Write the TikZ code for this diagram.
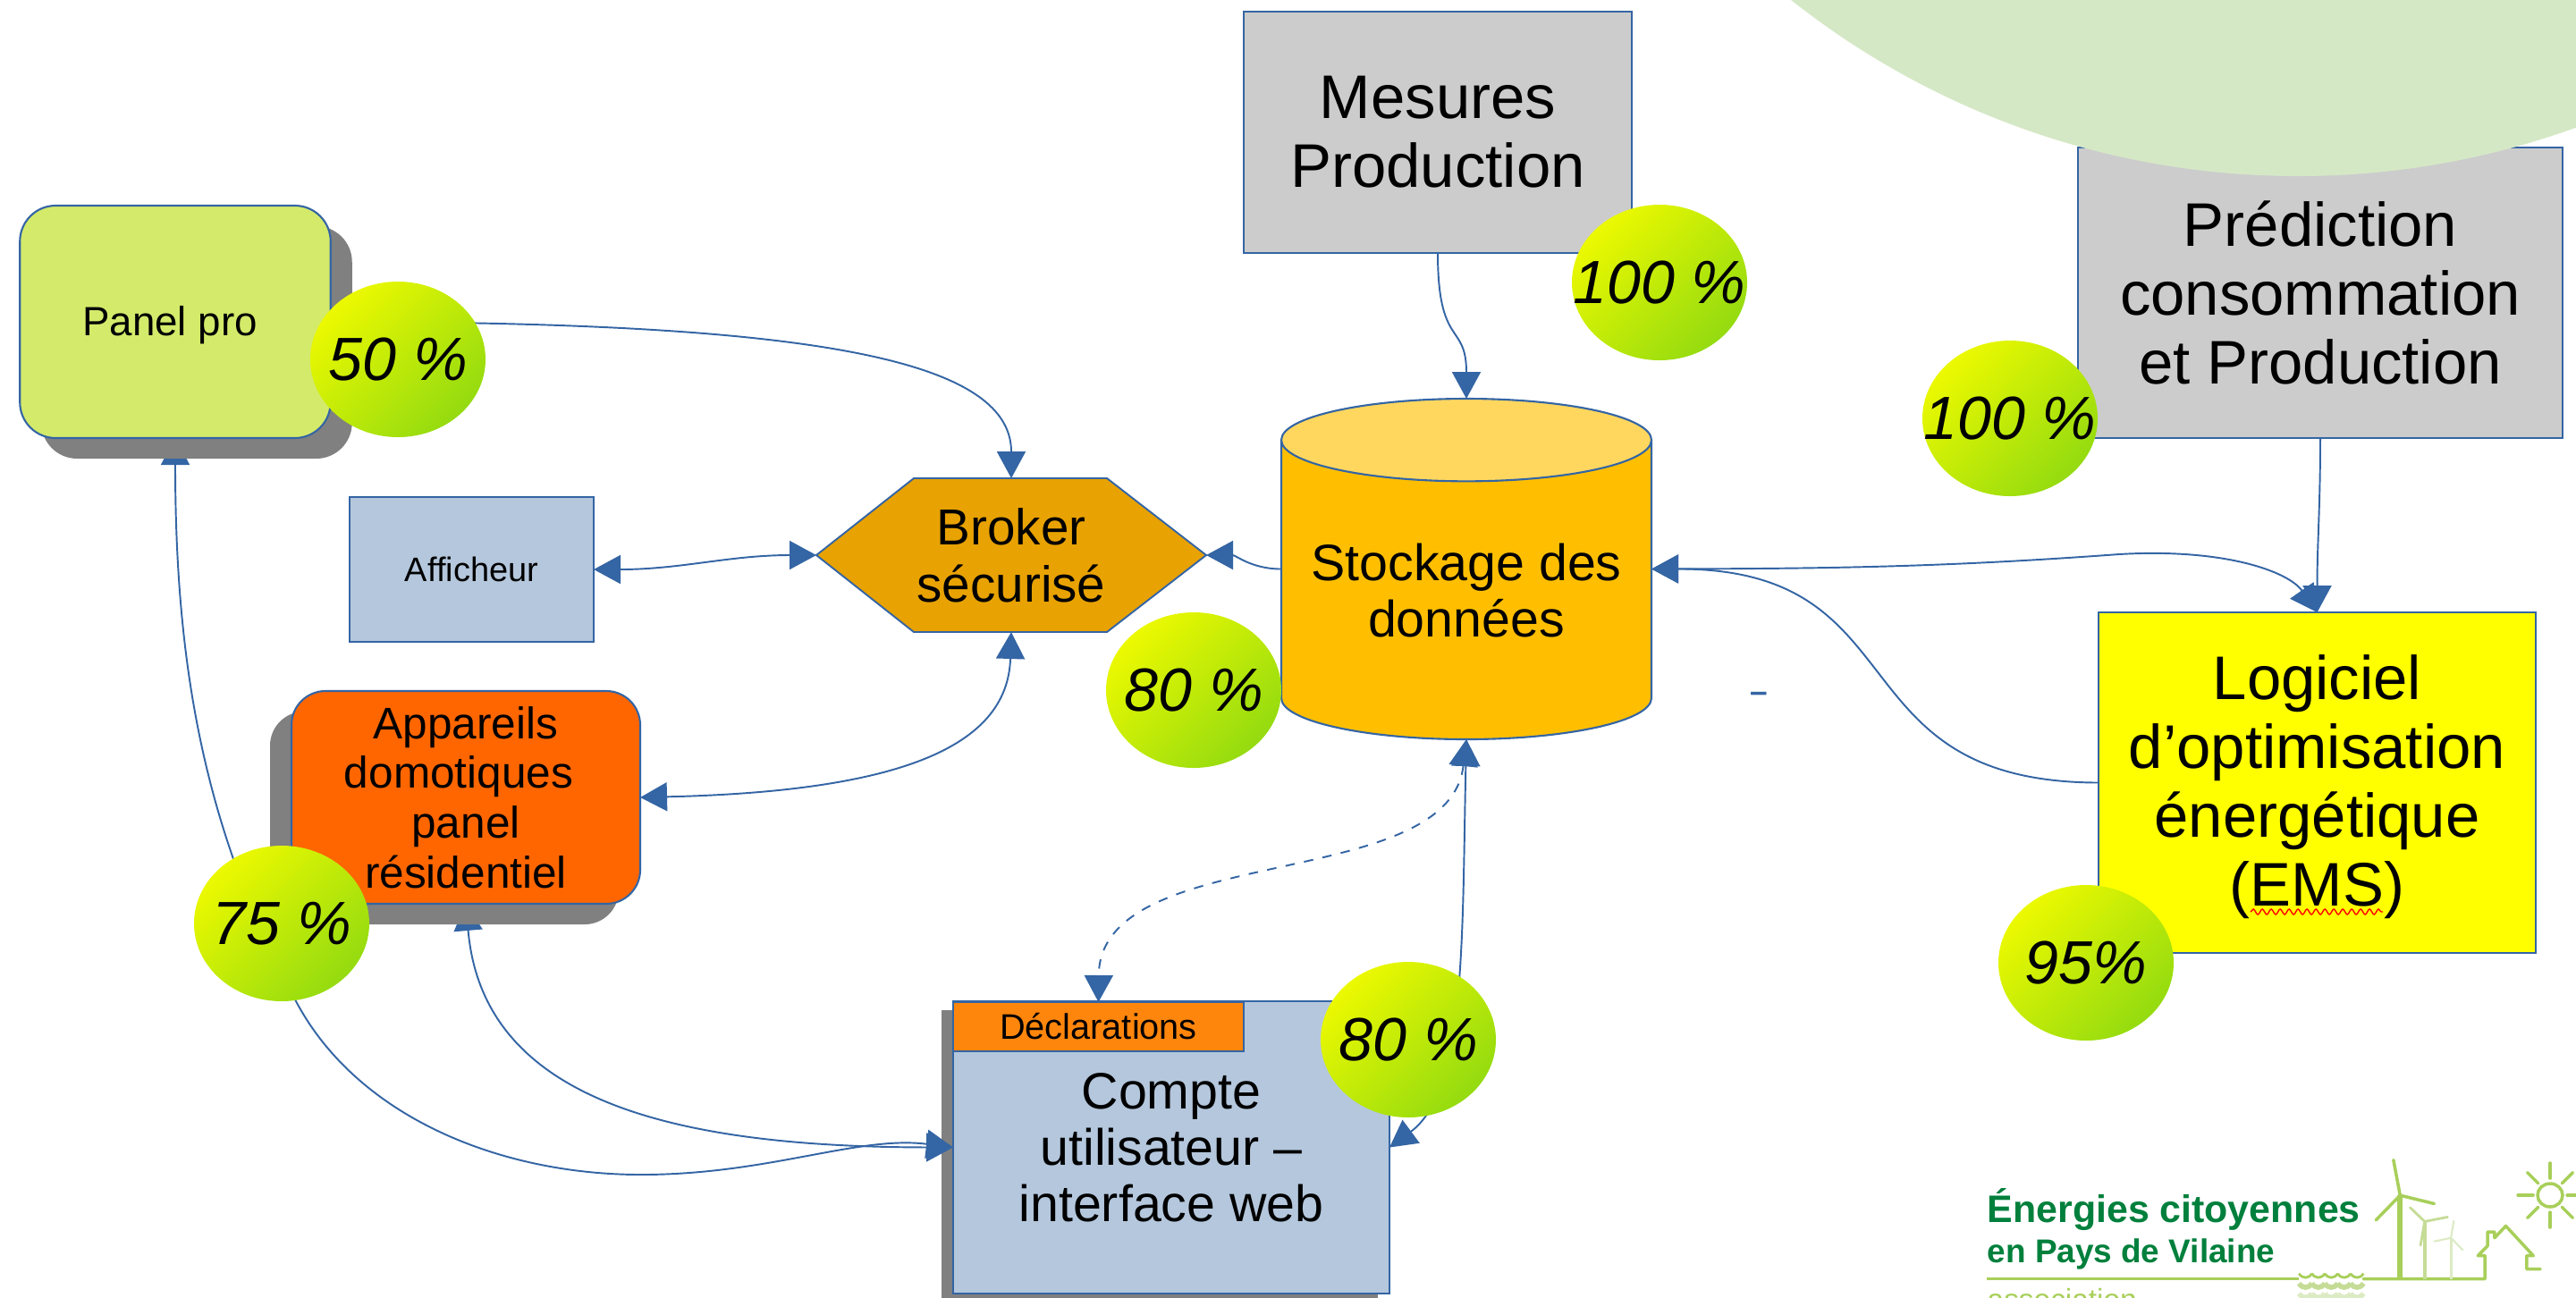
\documentclass[tikz,border=0pt]{standalone}
\usepackage{fontspec}
\setmainfont{Liberation Sans}
\usetikzlibrary{arrows.meta,shapes.geometric,shadows,backgrounds,decorations.pathmorphing}

\definecolor{linkblue}{HTML}{3465A4}
\definecolor{boxblue}{HTML}{B4C7DC}
\definecolor{boxgray}{HTML}{CCCCCC}
\definecolor{shadowgray}{HTML}{808080}
\definecolor{panelgreen}{HTML}{D4EA6B}
\definecolor{tabsorange}{HTML}{FF860D}
\definecolor{appareilorange}{HTML}{FF6600}
\definecolor{brokerorange}{HTML}{E8A202}
\definecolor{emsyellow}{HTML}{FFFF00}
\definecolor{cylbody}{HTML}{FFBF00}
\definecolor{cyltop}{HTML}{FFD75E}
\definecolor{badgetop}{HTML}{ECF900}
\definecolor{badgebot}{HTML}{94DB10}
\definecolor{sunpale}{HTML}{D5E8C6}
\definecolor{logodark}{HTML}{00803C}
\definecolor{logogreen}{HTML}{A8CF5A}
\definecolor{logopale}{HTML}{C5DC96}
\definecolor{logopaler}{HTML}{DCEBC4}

\tikzset{
    >={Triangle[length=.3cm,width=.32cm]},
    box/.style={draw=linkblue, line width=.6pt, inner sep=0pt, outer sep=0pt, align=center},
    bigbox/.style={box, font=\fontsize{19.6}{21.9}\selectfont},
    midbox/.style={box, font=\fontsize{16.3}{17.9}\selectfont},
    badge/.style={ellipse, inner xsep=-.5cm, inner ysep=-.2cm, minimum width=1.96cm, minimum height=1.74cm,
        top color=badgetop, bottom color=badgebot, shading angle=45, font=\fontsize{19.4}{22}\selectfont\itshape},
    link/.style={draw=linkblue, line width=.55pt},
}

\begin{document}
\begin{tikzpicture}[y=-1cm]
    \useasboundingbox (0,0) rectangle (28.81,14.51);
    \clip (0,0) rectangle (28.81,14.51);

    % Add the boxes on the left
    \node[box, fill=panelgreen, rounded corners=.4cm, minimum width=3.475cm, minimum height=2.6cm,
        general shadow={shadow xshift=.24cm, shadow yshift=-.23cm, fill=shadowgray}, text height=.33cm, text depth=.02cm,
        font=\fontsize{13}{15}\selectfont] (panelpro) at (1.96,3.6) {Panel pro\hspace*{.12cm}};
    \node[box, fill=boxblue, minimum width=2.73cm, minimum height=1.62cm,
        font=\fontsize{10.8}{13}\selectfont] (afficheur) at (5.275,6.37) {Afficheur};
    \node[box, fill=appareilorange, rounded corners=.38cm, minimum width=3.9cm, minimum height=2.38cm,
        general shadow={shadow xshift=-.24cm, shadow yshift=-.23cm, fill=shadowgray},
        font=\fontsize{14.1}{15.8}\selectfont] (appareils) at (5.21,8.92) {Appareils\\domotiques\hspace*{.16cm}\mbox{}\\panel\\résidentiel};

    % Add the hexagon of the broker
    \draw[link, fill=brokerorange] (9.13,6.21) -- (10.22,5.35) -- (12.38,5.35) -- (13.49,6.21) -- (12.38,7.07) -- (10.22,7.07) -- cycle;
    \node[font=\fontsize{16.1}{18.2}\selectfont, align=center, inner sep=0pt, outer sep=0pt,
        minimum width=4.36cm, minimum height=1.72cm] (broker) at (11.31,6.21) {Broker\\sécurisé};

    % Add the data store and the boxes on the right
    \node[midbox, shape=cylinder, shape border rotate=90, aspect=.266, cylinder uses custom fill, anchor=shape center,
        cylinder body fill=cylbody, cylinder end fill=cyltop, minimum width=4.14cm, minimum height=3.81cm] (stockage) at (16.4,6.365) {Stockage des\\données};
    \node[bigbox, fill=boxgray, minimum width=4.34cm, minimum height=2.7cm] (mesures) at (16.08,1.48) {Mesures\\Production};
    \node[bigbox, fill=boxgray, minimum width=5.42cm, minimum height=3.25cm] (prediction) at (25.95,3.275) {Prédiction\\consommation\\et Production};
    \node[bigbox, fill=emsyellow, minimum width=4.89cm, minimum height=3.81cm] (logiciel) at (25.915,8.755) {\rule{0pt}{.59cm}Logiciel\\d’optimisation\\énergétique\\(EMS)};
    \draw[red, line width=.4pt, decorate, decoration={snake, amplitude=.3mm, segment length=1mm}] (25.17,10.2) -- (26.65,10.2);

    % Add the connectors under the boxes
    \begin{scope}[on background layer]
        \node[midbox, fill=boxblue, minimum width=4.88cm, minimum height=3.27cm,
            general shadow={shadow xshift=-.13cm, shadow yshift=-.1cm, fill=shadowgray}] (compte) at (13.1,12.835) {Compte\\utilisateur –\\interface web};
        \node[box, fill=tabsorange, minimum width=3.25cm, minimum height=.55cm,
            font=\fontsize{11.3}{13}\selectfont] (declarations) at (12.285,11.485) {Déclarations};

        \draw[link, ->] (panelpro.east) .. controls (9,3.6) and (11.31,4) .. (broker.north);
        \draw[link, <->] (afficheur.east) to[out=0, in=180] (broker.west);
        \draw[link, <->] (appareils.east) .. controls (10.2,8.85) and (11.27,8.3) .. (broker.south);
        \draw[link, ->] (stockage.west |- stockage.shape center) to[out=180, in=0] (broker.east);
        \draw[link, ->] (mesures.south) .. controls (16.08,3.9) and (16.4,3.6) .. (stockage.north);
        \draw[link, ->] (prediction.south) to[out=-90, in=90] (logiciel.north);
        \draw[link, <->] (stockage.east |- stockage.shape center) .. controls (20.5,6.36) and (21.8,6.34) .. (23.7,6.2) .. controls (24.9,6.13) and (25.6,6.4) .. (logiciel.north);
        \draw[link, ->] (logiciel.west) .. controls (20.5,8.75) and (21.5,6.36) .. (stockage.east |- stockage.shape center);
        \draw[link, <->] (stockage.south) .. controls (16.35,10.5) and (16.4,12.2) .. (compte.east);
        \draw[link, <->, dashed] (stockage.south) .. controls (16.2,10) and (12.3,9.4) .. (declarations.north);
        \draw[link, <->] (panelpro.south) .. controls (1.96,7.5) and (2.3,9.3) .. (3.31,11.2) .. controls (4,12.5) and (5.6,13.14) .. (7.17,13.14) .. controls (8.6,13.14) and (9.6,12.7) .. (compte.west);
        \draw[link, <->] (appareils.south) .. controls (5.4,12.3) and (7.5,12.83) .. (compte.west);
    \end{scope}

    % Add the pale disc of the corner
    \fill[sunpale] (25.7,-7.17) circle (9.14);

    % Add the stray dash
    \node[text=linkblue, font=\fontsize{10}{12}\selectfont\bfseries, inner sep=0pt] (dash) at (19.67,7.8) {–};

    % Add the percentages
    \node[badge] (pctpanel) at (4.45,4.02) {50 \%};
    \node[badge] (pctmesures) at (18.56,3.16) {100 \%};
    \node[badge] (pctprediction) at (22.48,4.68) {100 \%};
    \node[badge] (pctbroker) at (13.35,7.72) {80 \%};
    \node[badge] (pctappareils) at (3.15,10.33) {75 \%};
    \node[badge] (pctcompte) at (15.75,11.63) {80 \%};
    \node[badge] (pctlogiciel) at (23.33,10.77) {95\%};

    % Add the logo, in its own frame
    \node[text=logodark, anchor=base west, inner sep=0pt, font=\fontsize{12.2}{14}\selectfont\bfseries] (logotitle) at (22.22,13.67) {Énergies citoyennes};
    \node[text=logodark, anchor=base west, inner sep=0pt, font=\fontsize{10.5}{12}\selectfont\bfseries] (logoplace) at (22.22,14.12) {en Pays de Vilaine};
    \node[text=logogreen, anchor=base west, inner sep=0pt, font=\fontsize{9.5}{12}\selectfont] (logoasso) at (22.22,14.65) {association};

    \begin{scope}[shift={(21.5,12.5)}, x=.00466cm, y=-.00333cm]
        \draw[logogreen, line width=1pt] (155,543) -- (905,543);
        \draw[logogreen, line width=1pt, line join=round, line cap=round] (1060,543) -- (1352,543) -- (1352,465) -- (1335,465) -- (1358,432) -- (1358,385) -- (1375,385) -- (1375,405) -- (1402,365) -- (1468,465) -- (1452,465) -- (1452,510) -- (1485,510);

        % waves
        \foreach \row/\col/\wid in {525/logogreen/.8pt, 558/logopale/1.6pt, 592/logopaler/1.6pt}
            \foreach \i in {0,...,4}
                \draw[\col, line width=\wid] (905+31*\i,\row) .. controls (913+31*\i,\row+18) and (928+31*\i,\row+18) .. (936+31*\i,\row);

        % wind turbines
        \draw[logogreen, line width=1.6pt] (1148,262) -- (1148,543);
        \foreach \tipx/\tipy in {1132/143, 1230/290, 1090/345}
            \draw[logogreen, line width=1pt, line cap=round] (1148,262) -- (\tipx,\tipy);
        \draw[logopale, line width=1.1pt] (1207,350) -- (1207,543);
        \foreach \tipx/\tipy in {1172/303, 1262/335, 1197/430}
            \draw[logopale, line width=.8pt, line cap=round] (1207,350) -- (\tipx,\tipy);
        \draw[logopaler, line width=.9pt] (1270,405) -- (1270,543);
        \foreach \tipx/\tipy in {1277/348, 1230/417, 1298/445}
            \draw[logopaler, line width=.6pt, line cap=round] (1270,405) -- (\tipx,\tipy);
    \end{scope}

    % sun
    \coordinate (sun) at (28.52,13.37);
    \draw[logogreen, line width=1pt] (sun) ellipse (.14 and .13);
    \foreach \a in {0,45,...,315}
        \draw[logogreen, line width=1pt, line cap=round] (sun) ++(\a:.19) -- ++(\a:.17);
\end{tikzpicture}
\end{document}
